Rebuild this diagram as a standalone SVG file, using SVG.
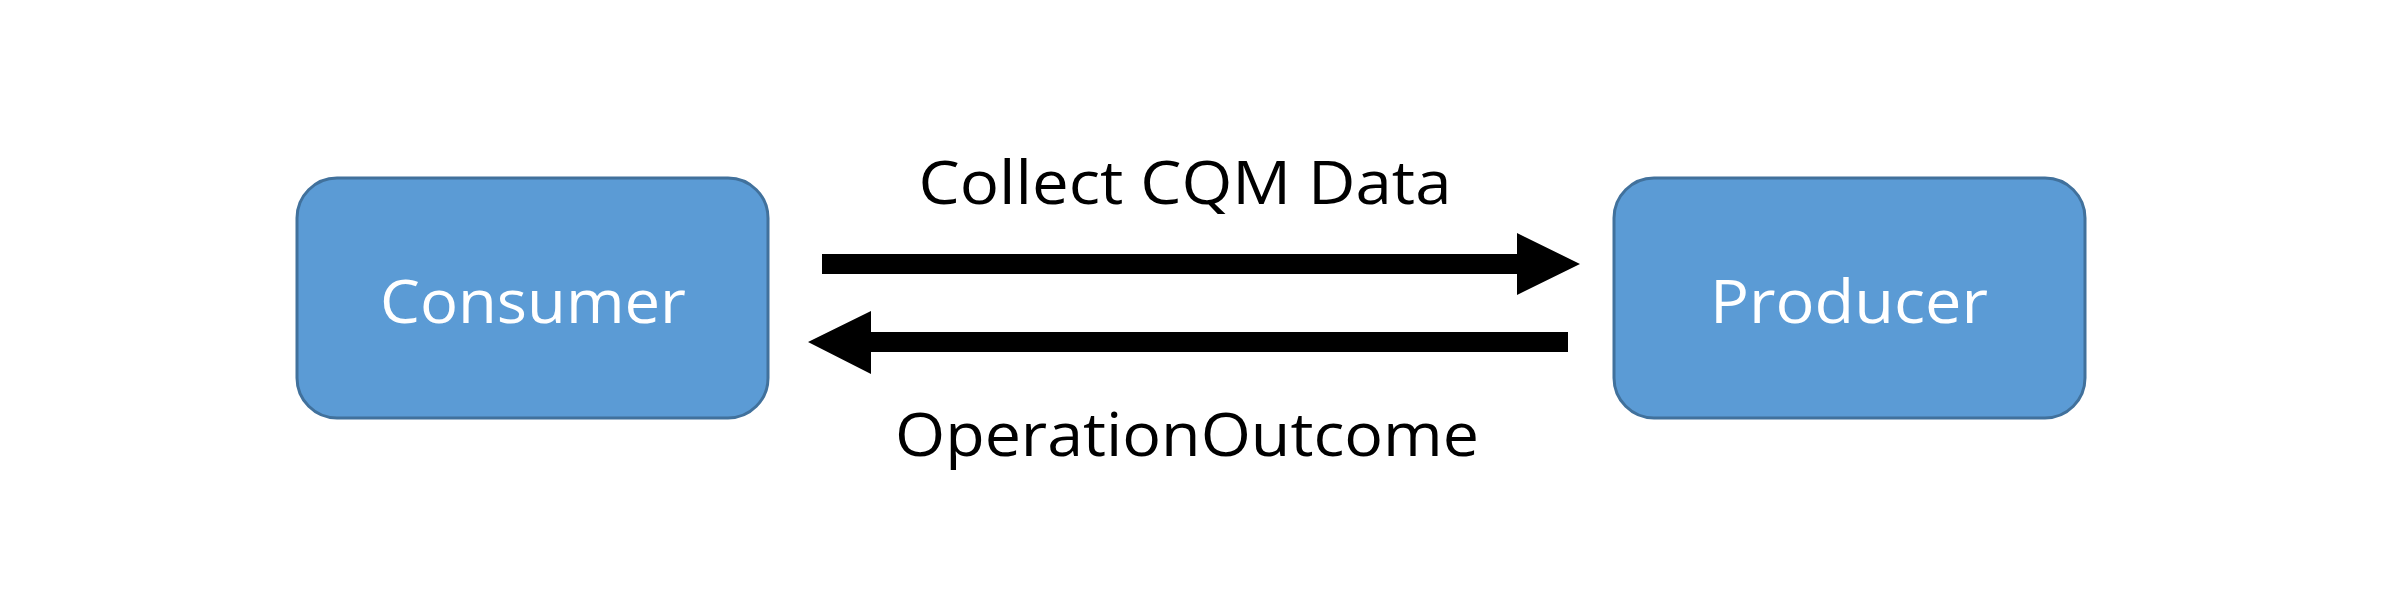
<svg xmlns="http://www.w3.org/2000/svg" width="2400" height="598" viewBox="0 0 2400 598">
<style>
.box{fill:#5b9bd5;stroke:#41719c;stroke-width:3}
.lbl{font-family:"Open Sans","Liberation Sans",sans-serif;font-size:60px;text-anchor:middle}
.w{fill:#fff}
</style>
<rect width="2400" height="598" fill="#fff"/>
<g id="consumer"><rect class="box" x="297" y="178" width="471" height="240" rx="40"/><text class="lbl w" x="533" y="323" textLength="306" lengthAdjust="spacingAndGlyphs">Consumer</text></g>
<g id="producer"><rect class="box" x="1614" y="178" width="471" height="240" rx="40"/><text class="lbl w" x="1849" y="323" textLength="278" lengthAdjust="spacingAndGlyphs">Producer</text></g>
<g id="connectors">
<polygon points="822,254 1517,254 1517,233 1580,264 1517,295 1517,274 822,274"/>
<polygon points="1568,332 871,332 871,311 808,342 871,374 871,352 1568,352"/>
<text class="lbl" x="1185" y="204" textLength="533" lengthAdjust="spacingAndGlyphs">Collect CQM Data</text>
<text class="lbl" x="1187" y="456" textLength="584" lengthAdjust="spacingAndGlyphs">OperationOutcome</text>
</g>
</svg>
